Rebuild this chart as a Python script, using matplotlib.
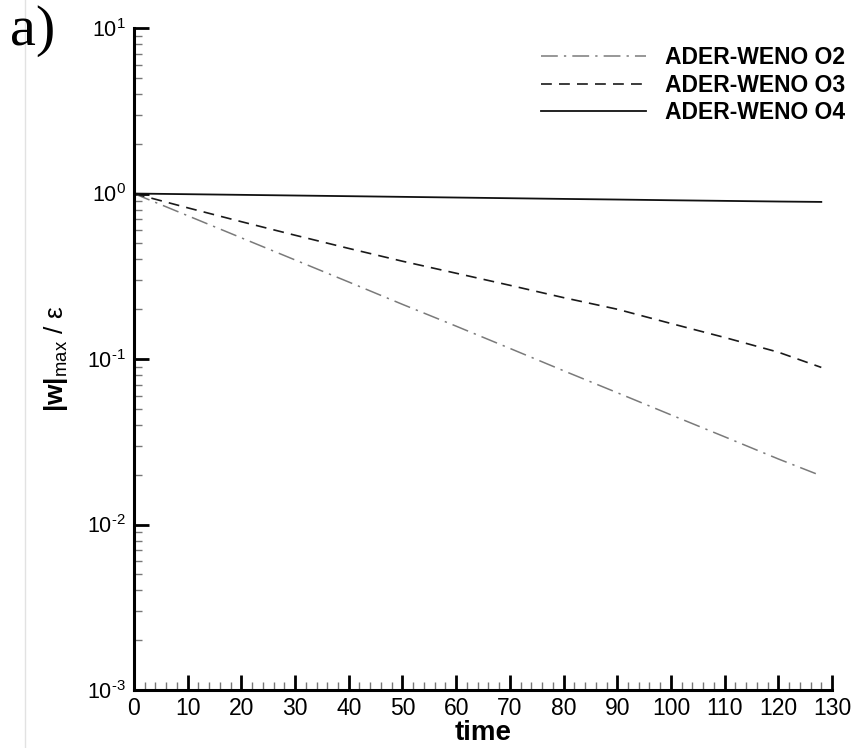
import math
import matplotlib
matplotlib.use("Agg")
import matplotlib.pyplot as plt
from matplotlib.lines import Line2D
from matplotlib.ticker import FixedLocator, LogLocator, NullFormatter, FuncFormatter

plt.rcParams['font.family'] = ['Liberation Sans', 'DejaVu Sans']
plt.rcParams['mathtext.fontset'] = 'custom'
plt.rcParams['mathtext.rm'] = 'Liberation Sans'
plt.rcParams['mathtext.it'] = 'Liberation Sans:italic'
plt.rcParams['mathtext.bf'] = 'Liberation Sans:bold'

# Decay of the normalised maximum vertical velocity
time = [0, 10, 20, 30, 40, 50, 60, 70, 80, 90, 100, 110, 120, 128]
o2 = [1.0, 0.735, 0.540, 0.397, 0.292, 0.214, 0.158, 0.116, 0.085, 0.0626,
      0.046, 0.0339, 0.0249, 0.0197]
o3 = [1.0, 0.82, 0.676, 0.56, 0.466, 0.39, 0.33, 0.279, 0.235, 0.20,
      0.164, 0.135, 0.110, 0.089]
o4 = [1.0, 0.991, 0.982, 0.973, 0.964, 0.955, 0.946, 0.937, 0.928, 0.920,
      0.911, 0.903, 0.895, 0.890]
labels = ['ADER-WENO O2', 'ADER-WENO O3', 'ADER-WENO O4']

fig = plt.figure(figsize=(8.56, 7.48), dpi=100)
ax = fig.add_axes([0.1565, 0.0775, 0.8155, 0.885])

ax.plot(time, o2, color='#7a7a7a', lw=1.1, linestyle=(0, (11, 4, 1.5, 4)),
        label=labels[0])
ax.plot(time, o3, color='#1a1a1a', lw=1.2, linestyle=(0, (6.5, 4.3)),
        label=labels[1])
ax.plot(time, o4, color='#111111', lw=1.3, linestyle='-', label=labels[2])

ax.set_yscale('log')
ax.set_xlim(0, 130)
ax.set_ylim(1e-3, 1e1)

for side in ('top', 'right'):
    ax.spines[side].set_visible(False)
for side in ('left', 'bottom'):
    ax.spines[side].set_linewidth(2.2)


def decade_label(v, pos):
    e = round(math.log10(v))
    exp = r'\text{-}%d' % abs(e) if e < 0 else '%d' % e
    return r'$\mathregular{10^{%s}}$' % exp


ax.xaxis.set_major_locator(FixedLocator(range(0, 131, 10)))
ax.xaxis.set_minor_locator(FixedLocator(range(0, 131, 2)))
ax.yaxis.set_major_locator(LogLocator(base=10, numticks=10))
ax.yaxis.set_minor_locator(LogLocator(base=10, subs=range(2, 10), numticks=20))
ax.yaxis.set_minor_formatter(NullFormatter())
ax.yaxis.set_major_formatter(FuncFormatter(decade_label))

ax.tick_params(which='major', direction='in', length=11, width=2.0,
               color='black')
ax.tick_params(which='minor', direction='in', length=6, width=1.0,
               color='#777777')
ax.tick_params(axis='x', which='major', labelsize=16.5, pad=5)
ax.tick_params(axis='y', which='major', labelsize=15.5, pad=6)

ax.set_xlabel('time', fontsize=20, fontweight='bold', labelpad=0)
ax.set_ylabel(r'$\mathbf{|w|}_{\mathregular{max}}$ / ε', fontsize=19,
              fontweight='normal', labelpad=12)

leg = ax.legend(loc='upper right', bbox_to_anchor=(845 / 856, 1 - 46 / 748),
                bbox_transform=fig.transFigure, frameon=False,
                borderpad=0, borderaxespad=0,
                prop={'weight': 'bold', 'size': 16.5}, handlelength=4.6,
                handletextpad=0.8, labelspacing=0.2)

fig.text(0.012, 0.958, 'a)', fontsize=42, family='Liberation Serif',
         va='center', ha='left')
fig.add_artist(Line2D([25 / 856, 25 / 856], [0, 1], color='#e2e2e2', lw=1.0,
                      transform=fig.transFigure))

fig.savefig('out.png', dpi=100)
